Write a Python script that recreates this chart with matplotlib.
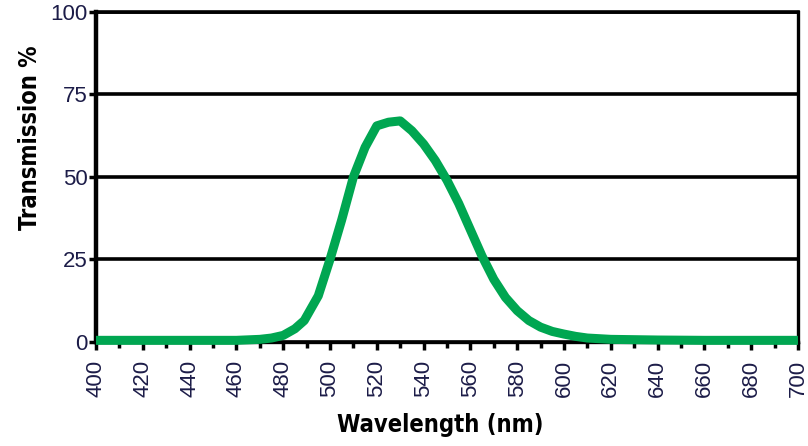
import matplotlib.pyplot as plt

# datos
longitud = [400, 410, 420, 430, 440, 450, 460, 470, 475, 480, 485, 489, 495, 500, 505, 510,
            515, 520, 525, 530, 535, 540, 545, 550, 555, 560, 565, 570, 575, 580, 585,
            590, 595, 600, 605, 610, 620, 640, 660, 680, 700]
transmision = [0.5, 0.5, 0.5, 0.5, 0.5, 0.5, 0.5, 0.8, 1.2, 2.0, 4.0, 6.5, 14, 25, 37, 50,
               59, 65.5, 66.6, 67, 64, 60, 55, 49, 42, 34, 26, 19, 13.5, 9.5, 6.5,
               4.5, 3.2, 2.4, 1.7, 1.2, 0.8, 0.6, 0.5, 0.5, 0.5]

x_ticks = list(range(400, 701, 20))
y_ticks = [0, 25, 50, 75, 100]

fig = plt.figure(figsize=(8.08, 4.46), dpi=100)
ax = fig.add_axes([0.1188, 0.2332, 0.8688, 0.7399])

ax.plot(longitud, transmision, color='#00a651', linewidth=6.5, solid_joinstyle='round',
        solid_capstyle='butt', clip_on=False, zorder=4)

ax.set_xlim(400, 700)
ax.set_ylim(0, 100)
ax.set_xticks(x_ticks)
ax.set_xticks(range(410, 700, 20), minor=True)
ax.set_yticks(y_ticks)
ax.grid(axis='y', color='black', linewidth=2.6)
ax.set_axisbelow(True)

for lado in ['left', 'right', 'bottom', 'top']:
    ax.spines[lado].set_color('black')
ax.spines['left'].set_linewidth(3.2)
ax.spines['right'].set_linewidth(2.4)
ax.spines['bottom'].set_linewidth(2.4)
ax.spines['top'].set_linewidth(2.6)

ax.tick_params(axis='x', which='major', direction='out', length=6, width=2.5,
               labelrotation=90, labelsize=16, labelcolor='#1c1c48', pad=7)
ax.tick_params(axis='x', which='minor', direction='out', length=4, width=2.5)
ax.tick_params(axis='y', direction='out', length=5, width=2.5,
               labelsize=16, labelcolor='#1c1c48', pad=1)
for t in ax.get_xticklabels() + ax.get_yticklabels():
    t.set_fontfamily('Liberation Sans')

ax.set_ylabel('Transmission %', fontsize=17, fontweight='bold', fontstretch='condensed',
              family='DejaVu Sans')
ax.yaxis.set_label_coords(-0.077, 0.62)
ax.set_xlabel('Wavelength (nm)', fontsize=17, fontweight='bold', fontstretch='condensed',
              family='DejaVu Sans')
ax.xaxis.set_label_coords(0.49, -0.215)

fig.savefig('out.png', dpi=100)
